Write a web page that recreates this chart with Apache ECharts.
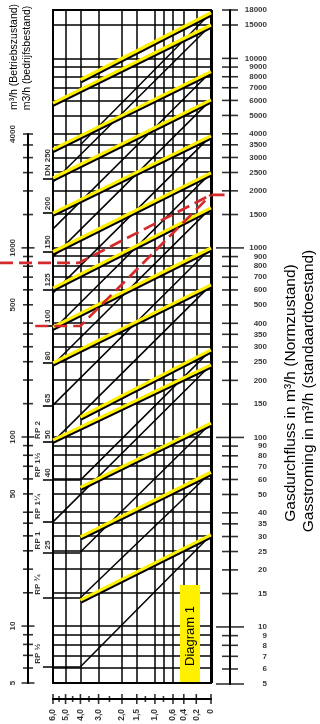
<!DOCTYPE html>
<html>
<head>
<meta charset="utf-8">
<script src="https://cdn.jsdelivr.net/npm/echarts@6/dist/echarts.min.js"></script>
<style>
  html, body { margin: 0; padding: 0; background: #fff; }
  #chart { width: 320px; height: 724px; }
</style>
</head>
<body>
<div id="chart"></div>
<script>
// ---- data ----
const P_ATM = 1.013; // bar, gauge 0 on the pressure scale
const FLOW_MIN = 5;
const FLOW_MAX = 18000;
const LEFT_MAX = 4000;
const P_MAX = 6;

const FLOW_TICKS = [18000, 15000, 10000, 9000, 8000, 7000, 6000, 5000, 4000, 3500, 3000, 2500, 2000, 1500,
  1000, 900, 800, 700, 600, 500, 400, 350, 300, 250, 200, 150, 100, 90, 80, 70, 60, 50, 40, 35, 30, 25, 20,
  15, 10, 9, 8, 7, 6, 5];
const FLOW_MAJOR = [5, 10, 100, 1000];
const LEFT_LABELS = [4000, 1000, 500, 100, 50, 10, 5];

const PRESSURE_GRID = [6, 5, 4, 3, 2, 1.5, 1, 0.8, 0.6, 0.4, 0.2, 0];
const PRESSURE_LABEL_VALUES = [6, 5, 4, 3, 2, 1.5, 1, 0.6, 0.4, 0.2, 0];
const PRESSURE_LABELS = ['6,0', '5,0', '4,0', '3,0', '2,0', '1,5', '1,0', '0,6', '0,4', '0,2', '0'];
const PRESSURE_MINOR = [5.5, 4.5, 3.5, 2.5, 1.25, 0.8];

// yellow lines: start pressure / flow, flow at 0 bar (where the black line meets it)
const YELLOW_P = [4, 6, 6, 6, 6, 6, 6, 6, 6, 4, 6, 4, 4, 4];
const YELLOW_Q_LEFT = [7700, 5800, 3300, 2330, 1520, 950, 610, 380, 246, 127, 96, 54, 29.6, 13.7];
const YELLOW_Q_RIGHT = [17400, 15000, 8500, 6030, 3890, 2480, 1620, 995, 635, 288, 240, 118, 65, 30.3];
// black lines running down from the same 0 bar point
const BLACK_P = [4, 6, 6, 6, 6, 6, 6, 6, 6, 4, 6, 4, 4, 4];
const BLACK_Q_LEFT = [3490, 2220, 1255, 893, 576, 367, 240, 147, 94, 59, 35.5, 24.6, 14.1, 6.1];

// pipe sizes on the left
const DN_Q = [2300, 1520, 950, 600, 385, 245, 146, 94, 59, 35.5, 24.5, 14.1, 6.1];
const DN_P_END = [6, 6, 6, 6, 6, 6, 6, 6, 4, 6, 4, 4, 4];
const DN_TEXT = ['DN 250', '200', '150', '125', '100', '80', '65', '50', '40', '', '25', '', ''];
const RP_TEXT = ['', '', '', '', '', '', '', 'RP 2', 'RP 1½', 'RP 1¼', 'RP 1', 'RP ¾', 'RP ½'];

// red example
const RED_A_P = [12.4, 4.1, 0, -0.18];
const RED_A_Q = [830, 830, 1900, 1900];
const RED_B_P = [7.7, 4, 0];
const RED_B_Q = [385, 385, 1900];

// ---- chart ----
const abs = p => p + P_ATM;
const TICK_OUT_P = 6.92;
const YELLOW = '#fff000';
const RED = '#d42a2a';
const FONT = '"Liberation Sans", Arial, sans-serif';

const gridLines = [];
PRESSURE_GRID.forEach(p => gridLines.push({ coords: [[abs(p), FLOW_MIN], [abs(p), FLOW_MAX]] }));
FLOW_TICKS.forEach(q => gridLines.push({ coords: [[abs(P_MAX), q], [abs(0), q]] }));

const yellowLines = YELLOW_P.map((p, i) => ({ coords: [[abs(p), YELLOW_Q_LEFT[i]], [abs(0), YELLOW_Q_RIGHT[i]]] }));
const blackLines = BLACK_P.map((p, i) => ({ coords: [[abs(p), BLACK_Q_LEFT[i]], [abs(0), YELLOW_Q_RIGHT[i]]] }));
const dnTicks = DN_Q.map((q, i) => ({ coords: [[abs(TICK_OUT_P), q], [abs(DN_P_END[i]), q]] }));
const redLines = [
  { coords: RED_A_P.map((p, i) => [abs(p), RED_A_Q[i]]) },
  { coords: RED_B_P.map((p, i) => [abs(p), RED_B_Q[i]]) }
];

const linesBase = { type: 'lines', coordinateSystem: 'cartesian2d', xAxisIndex: 0, yAxisIndex: 0, silent: true, animation: false };
const labelBase = { show: true, color: '#000', fontFamily: FONT, fontWeight: 'bold', fontSize: 8 };

const chart = echarts.init(document.getElementById('chart'));
chart.setOption({
  animation: false,
  grid: [
    { left: 53, top: 10, width: 158, height: 673, show: true, borderColor: '#000', borderWidth: 2, backgroundColor: 'transparent' },
    { left: 28, top: 134, width: 1, height: 549 },
    { left: 230, top: 10, width: 1, height: 674 },
    { left: 53, top: 698, width: 158, height: 1 }
  ],
  xAxis: [
    { gridIndex: 0, type: 'log', min: abs(0), max: abs(P_MAX), inverse: true, show: false },
    { gridIndex: 1, type: 'value', min: 0, max: 1, show: false },
    { gridIndex: 2, type: 'value', min: 0, max: 1, show: false },
    { gridIndex: 3, type: 'log', min: abs(0), max: abs(P_MAX), inverse: true,
      axisLine: { show: true, lineStyle: { color: '#000', width: 2 } },
      axisTick: { show: false }, axisLabel: { show: false }, splitLine: { show: false } }
  ],
  yAxis: [
    { gridIndex: 0, type: 'log', min: FLOW_MIN, max: FLOW_MAX, show: false },
    { gridIndex: 1, type: 'log', min: FLOW_MIN, max: LEFT_MAX,
      axisLine: { show: true, lineStyle: { color: '#000', width: 2 } },
      axisTick: { show: false }, axisLabel: { show: false }, splitLine: { show: false } },
    { gridIndex: 2, type: 'log', min: FLOW_MIN, max: FLOW_MAX,
      axisLine: { show: true, lineStyle: { color: '#000', width: 2 } },
      axisTick: { show: false }, axisLabel: { show: false }, splitLine: { show: false } },
    { gridIndex: 3, type: 'value', min: 0, max: 1, show: false }
  ],
  series: [
    Object.assign({}, linesBase, { z: 1, lineStyle: { color: '#000', width: 1.5, opacity: 1 }, data: gridLines }),
    Object.assign({}, linesBase, { z: 2, lineStyle: { color: '#000', width: 3, opacity: 1 },
      data: [{ coords: [[abs(0), FLOW_MIN], [abs(0), FLOW_MAX]] }] }),
    Object.assign({}, linesBase, { z: 3, clip: false, lineStyle: { color: '#000', width: 1.6, opacity: 1 }, data: dnTicks }),
    Object.assign({}, linesBase, { z: 4, lineStyle: { color: '#000', width: 1.5, opacity: 1 }, data: blackLines }),
    Object.assign({}, linesBase, { z: 5, lineStyle: { color: YELLOW, width: 3.2, opacity: 1,
      shadowColor: '#000', shadowBlur: 0, shadowOffsetX: 0.5, shadowOffsetY: 2 }, data: yellowLines }),
    Object.assign({}, linesBase, { z: 7, clip: false, polyline: true,
      lineStyle: { color: RED, width: 2.7, opacity: 1, type: [13, 6] }, data: redLines }),
    // DN / RP labels
    { type: 'scatter', xAxisIndex: 0, yAxisIndex: 0, clip: false, silent: true, symbolSize: 0.1, z: 8,
      itemStyle: { color: 'transparent' },
      data: DN_Q.map((q, i) => ({ value: [abs(P_MAX), q], name: DN_TEXT[i] })).filter(d => d.name),
      label: Object.assign({}, labelBase, { formatter: '{b}', position: 'inside', rotate: 90, align: 'left',
        verticalAlign: 'middle', offset: [3, -5], fontSize: 8 }) },
    { type: 'scatter', xAxisIndex: 0, yAxisIndex: 0, clip: false, silent: true, symbolSize: 0.1, z: 8,
      itemStyle: { color: 'transparent' },
      data: DN_Q.map((q, i) => ({ value: [abs(P_MAX), q], name: RP_TEXT[i] })).filter(d => d.name),
      label: Object.assign({}, labelBase, { formatter: '{b}', position: 'inside', rotate: 90, align: 'left',
        verticalAlign: 'middle', offset: [3, -15], fontSize: 8 }) },
    // left axis ticks + labels
    { type: 'scatter', xAxisIndex: 1, yAxisIndex: 1, silent: true, symbol: 'rect', z: 8,
      itemStyle: { color: '#000' },
      data: FLOW_TICKS.filter(q => q <= LEFT_MAX).map(q => ({ value: [0, q], symbolSize: [FLOW_MAJOR.includes(q) ? 13 : 10, 1.6] })) },
    { type: 'scatter', xAxisIndex: 1, yAxisIndex: 1, silent: true, symbolSize: 0.1, z: 8,
      itemStyle: { color: 'transparent' },
      data: LEFT_LABELS.map(q => [0, q]),
      label: Object.assign({}, labelBase, { formatter: p => String(p.value[1]), position: 'inside', rotate: 90,
        align: 'center', verticalAlign: 'middle', offset: [0, -15] }) },
    // right axis ticks + labels
    { type: 'scatter', xAxisIndex: 2, yAxisIndex: 2, silent: true, symbol: 'rect', z: 8,
      itemStyle: { color: '#000' },
      data: FLOW_TICKS.map(q => ({ value: [0, q], symbolSize: [FLOW_MAJOR.includes(q) ? 28 : 16, 1.6] })),
      label: Object.assign({}, labelBase, { formatter: p => String(p.value[1]), position: 'inside',
        align: 'right', verticalAlign: 'middle', offset: [37, 0] }) },
    // bottom pressure ticks + labels
    { type: 'scatter', xAxisIndex: 3, yAxisIndex: 3, silent: true, symbol: 'rect', z: 8,
      itemStyle: { color: '#000' },
      data: PRESSURE_LABEL_VALUES.map(p => ({ value: [abs(p), 0], symbolSize: [1.6, 10] }))
        .concat(PRESSURE_MINOR.map(p => ({ value: [abs(p), 0], symbolSize: [1.6, 6] }))) },
    { type: 'scatter', xAxisIndex: 3, yAxisIndex: 3, silent: true, symbolSize: 0.1, z: 8,
      itemStyle: { color: 'transparent' },
      data: PRESSURE_LABEL_VALUES.map((p, i) => ({ value: [abs(p), 0], name: PRESSURE_LABELS[i] })),
      label: Object.assign({}, labelBase, { formatter: '{b}', position: 'inside', rotate: 90,
        align: 'right', verticalAlign: 'middle', offset: [-10, 0], fontSize: 8.5 }) }
  ],
  graphic: [
    { type: 'text', x: 14, y: 57, rotation: Math.PI / 2, z: 10,
      style: { text: 'm³/h (Betriebszustand)', font: '10.5px ' + FONT, fill: '#000', align: 'center', verticalAlign: 'middle' } },
    { type: 'text', x: 27, y: 58, rotation: Math.PI / 2, z: 10,
      style: { text: 'm3/h (bedrijfsbestand)', font: '10.5px ' + FONT, fill: '#000', align: 'center', verticalAlign: 'middle' } },
    { type: 'text', x: 291, y: 393, rotation: Math.PI / 2, z: 10,
      style: { text: 'Gasdurchfluss in m³/h (Normzustand)', font: '15.5px ' + FONT, fill: '#000', align: 'center', verticalAlign: 'middle' } },
    { type: 'text', x: 309, y: 391, rotation: Math.PI / 2, z: 10,
      style: { text: 'Gasstroming in m³/h (standaardtoestand)', font: '15.5px ' + FONT, fill: '#000', align: 'center', verticalAlign: 'middle' } },
    { type: 'rect', z: 10, shape: { x: 180, y: 585, width: 20, height: 97 }, style: { fill: YELLOW } },
    { type: 'text', x: 190, y: 636, rotation: Math.PI / 2, z: 11,
      style: { text: 'Diagram 1', font: '13px ' + FONT, fill: '#000', align: 'center', verticalAlign: 'middle' } }
  ]
});
</script>
</body>
</html>
